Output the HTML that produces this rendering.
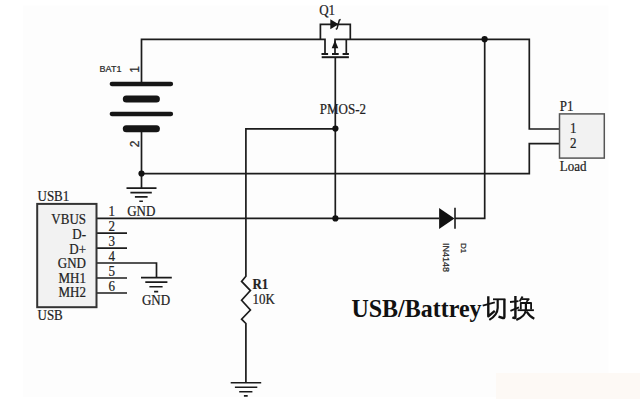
<!DOCTYPE html>
<html><head><meta charset="utf-8">
<style>
html,body{margin:0;padding:0;background:#fff;}
body{width:640px;height:408px;overflow:hidden;position:relative;}
svg{position:absolute;left:0;top:0;}
.w{fill:none;stroke:#1c1c1c;stroke-width:1.7;stroke-linecap:butt;stroke-linejoin:miter;}
.s{font-family:"Liberation Serif",serif;fill:#222;font-size:13px;stroke:#222;stroke-width:0.2;}
.ss{font-family:"Liberation Sans",sans-serif;fill:#2a2a2a;stroke:#2a2a2a;stroke-width:0.25;}
</style></head>
<body>
<svg width="640" height="408" viewBox="0 0 640 408">
<rect x="0" y="0" width="640" height="408" fill="#ffffff"/>
<rect x="23" y="5.5" width="585.5" height="391.5" fill="#fdfdfd"/>
<rect x="496" y="373" width="144" height="26" fill="#fdf9f5"/>
<!-- wires -->
<g class="w">
  <!-- battery top to Q1 -->
  <path d="M141.5,84 V39.3 H325 V54"/>
  <!-- Q1 diode bracket -->
  <path d="M320.4,39.3 V24.3 H350.3 V39.3"/>
  <!-- Q1 right wire -->
  <path d="M335,54 V39.3 H529.3 V129 H559.5"/>
  <path d="M346.3,39.3 V54"/>
  <!-- battery bottom to ground -->
  <path d="M141.5,128.7 V188"/>
  <!-- GND rail -->
  <path d="M141.5,173.6 H529.3 V143.6 H559.5"/>
  <!-- gate down -->
  <path d="M335.3,57 V218.4"/>
  <!-- R1 wire -->
  <path d="M335.3,128.8 H245.9 V276.3 L241.6,281.4 L250.4,290.6 L241.6,300.3 L250.4,310 L241.6,319.2 L245.9,323.5 V382.7"/>
  <!-- VBUS line -->
  <path d="M96.5,218.4 H439"/>
  <path d="M455,218.4 H484.7 V39.3"/>
  <!-- USB pins -->
  <path d="M96.5,233.2 H127 M96.5,248.2 H127 M96.5,278 H127 M96.5,293 H127"/>
  <path d="M96.5,263 H156.5 V277.6"/>
</g>
<!-- Q1 channel & gate -->
<g stroke="#1a1a1a" stroke-width="2" fill="none">
  <path d="M321.5,54 H328.1 M332,54 H338.7 M342.6,54 H348.9"/>
  <path d="M321.7,57.2 H348.9"/>
</g>
<polygon points="335,40.2 331.7,48.2 338.3,48.2" fill="#161616"/>
<!-- Q1 diode -->
<polygon points="330.3,19.2 330.3,29.3 338.6,24.3" fill="#161616"/>
<path d="M335.8,29.4 L337,28.6 L339.3,20.2 L340.6,19.3" fill="none" stroke="#1a1a1a" stroke-width="1.5"/>
<!-- junction dots -->
<g fill="#111">
  <circle cx="484.6" cy="39.2" r="3.1"/>
  <circle cx="335.4" cy="128.6" r="3.1"/>
  <circle cx="141.5" cy="173.5" r="3.1"/>
  <circle cx="335.4" cy="218.4" r="3.1"/>
</g>
<!-- battery plates -->
<g stroke="#161616" stroke-linecap="round" fill="none">
  <path d="M111.8,84 H171" stroke-width="4.3"/>
  <path d="M111.8,114 H171" stroke-width="4.3"/>
  <path d="M126.3,99 H156.4" stroke-width="7"/>
  <path d="M126.3,128.7 H156.4" stroke-width="7"/>
</g>
<!-- ground symbols -->
<g stroke="#1a1a1a" stroke-width="1.6" fill="none">
  <path d="M126.5,188.1 H156.5 M130.4,192.6 H151.8 M134.9,196.9 H147.6 M139.3,201.3 H142.9"/>
  <path d="M141,277.6 H171.8 M145.3,282.1 H167.4 M149.4,286.8 H162.6 M154.1,291.6 H158.2"/>
  <path d="M230.7,382.7 H261.2 M234.9,387.3 H257.3 M239.2,391.7 H252.4 M243.9,395.9 H247.7"/>
</g>
<!-- D1 -->
<polygon points="439.1,207.9 439.1,229 454.5,218.4" fill="#111"/>
<path d="M455,207.7 V228.8" stroke="#1a1a1a" stroke-width="1.6"/>
<!-- USB box -->
<rect x="37.2" y="203.9" width="59.3" height="103.3" fill="#f2f2f2" stroke="#333" stroke-width="2"/>
<!-- P1 box -->
<rect x="559.5" y="113.9" width="44.8" height="44.2" fill="#f2f2f2" stroke="#555" stroke-width="1.5"/>

<!-- texts -->
<text class="s" transform="matrix(1,0,0,1.08,319.2,15.0)">Q1</text>
<text class="s" transform="matrix(1,0,0,1.08,319.8,113.9)">PMOS-2</text>
<text class="s" transform="matrix(1,0,0,1.08,559.7,110.8)">P1</text>
<text class="s" transform="matrix(1,0,0,1.08,570,133.3)">1</text>
<text class="s" transform="matrix(1,0,0,1.08,570,148.1)">2</text>
<text class="s" transform="matrix(1,0,0,1.08,559.7,170.9)">Load</text>
<text class="s" transform="matrix(1,0,0,1.08,37.5,200.7)">USB1</text>
<text class="s" transform="matrix(1,0,0,1.08,37.5,320.1)">USB</text>
<g class="s" text-anchor="end">
  <text transform="matrix(1,0,0,1.08,86,223.7)">VBUS</text>
  <text transform="matrix(1,0,0,1.08,86,238.6)">D-</text>
  <text transform="matrix(1,0,0,1.08,86,253.5)">D+</text>
  <text transform="matrix(1,0,0,1.08,86,268.3)">GND</text>
  <text transform="matrix(1,0,0,1.08,86,282.9)">MH1</text>
  <text transform="matrix(1,0,0,1.08,86,297.3)">MH2</text>
</g>
<g class="s" text-anchor="middle">
  <text transform="matrix(1,0,0,1.08,111.8,215.6)">1</text>
  <text transform="matrix(1,0,0,1.08,111.8,230.6)">2</text>
  <text transform="matrix(1,0,0,1.08,111.8,245.7)">3</text>
  <text transform="matrix(1,0,0,1.08,111.8,260.7)">4</text>
  <text transform="matrix(1,0,0,1.08,111.8,275.7)">5</text>
  <text transform="matrix(1,0,0,1.08,111.8,290.7)">6</text>
  <text transform="matrix(1,0,0,1.08,141.2,216.3)">GND</text>
  <text transform="matrix(1,0,0,1.08,156,304.9)">GND</text>
</g>
<text class="s" font-weight="bold" font-size="12" transform="matrix(1,0,0,1.08,252.4,288.6)">R1</text>
<text class="s" transform="matrix(1,0,0,1.08,252.4,304.0)">10K</text>
<text class="ss" font-size="9.3" transform="matrix(0.97,0,0,1.0,99.6,71.9)" stroke-width="0.3">BAT1</text>
<text class="ss" font-size="12" transform="translate(138.8,69.3) rotate(-90)" text-anchor="middle">1</text>
<text class="ss" font-size="12" transform="translate(138.8,143.8) rotate(-90)" text-anchor="middle">2</text>
<text class="ss" font-size="9" transform="translate(443.2,243) rotate(90)">IN4148</text>
<text class="ss" font-size="8" transform="translate(461.2,243) rotate(90)">D1</text>
<!-- title -->
<text font-family="Liberation Serif" font-weight="bold" font-size="24" fill="#111" transform="matrix(1,0,0,1.02,351.4,317.2)">USB/Battrey</text>
<!-- 切 -->
<g stroke="#111" fill="none" stroke-linecap="butt" stroke-linejoin="round">
  <path d="M482.7,305.6 L494.8,302.4" stroke-width="1.9"/>
  <path d="M488.3,296.3 V316.3 L494.8,310.8" stroke-width="2.4"/>
  <path d="M493,299.3 H505.4" stroke-width="1.8"/>
  <path d="M504.4,299.3 V316.8 Q504.4,318.6 502.8,318 L498.5,316.6" stroke-width="2.4"/>
  <path d="M497.7,299.3 V308 Q497.4,315.2 489.3,319.9" stroke-width="2.2"/>
</g>
<!-- 换 -->
<g stroke="#111" fill="none" stroke-linecap="butt" stroke-linejoin="round">
  <path d="M510,302 L518.5,301.2" stroke-width="1.8"/>
  <path d="M515.4,296 V317.4 Q515.4,319 512.4,317.2" stroke-width="2.4"/>
  <path d="M510.4,310.8 L519,307.3" stroke-width="1.9"/>
  <path d="M522.6,296.5 L519.6,301.6" stroke-width="1.9"/>
  <path d="M522,299.2 H528.8 L526.4,301.8" stroke-width="1.7"/>
  <path d="M520.8,309.6 V303 H531.1 V309.6" stroke-width="1.8"/>
  <path d="M517.6,310.2 H533.9" stroke-width="1.8"/>
  <path d="M525.9,303 V310 Q525.2,316.5 516.3,319.9" stroke-width="2.2"/>
  <path d="M526.6,311.6 Q530,316.8 534.3,318.8" stroke-width="2.2"/>
</g>
</svg>
</body></html>
